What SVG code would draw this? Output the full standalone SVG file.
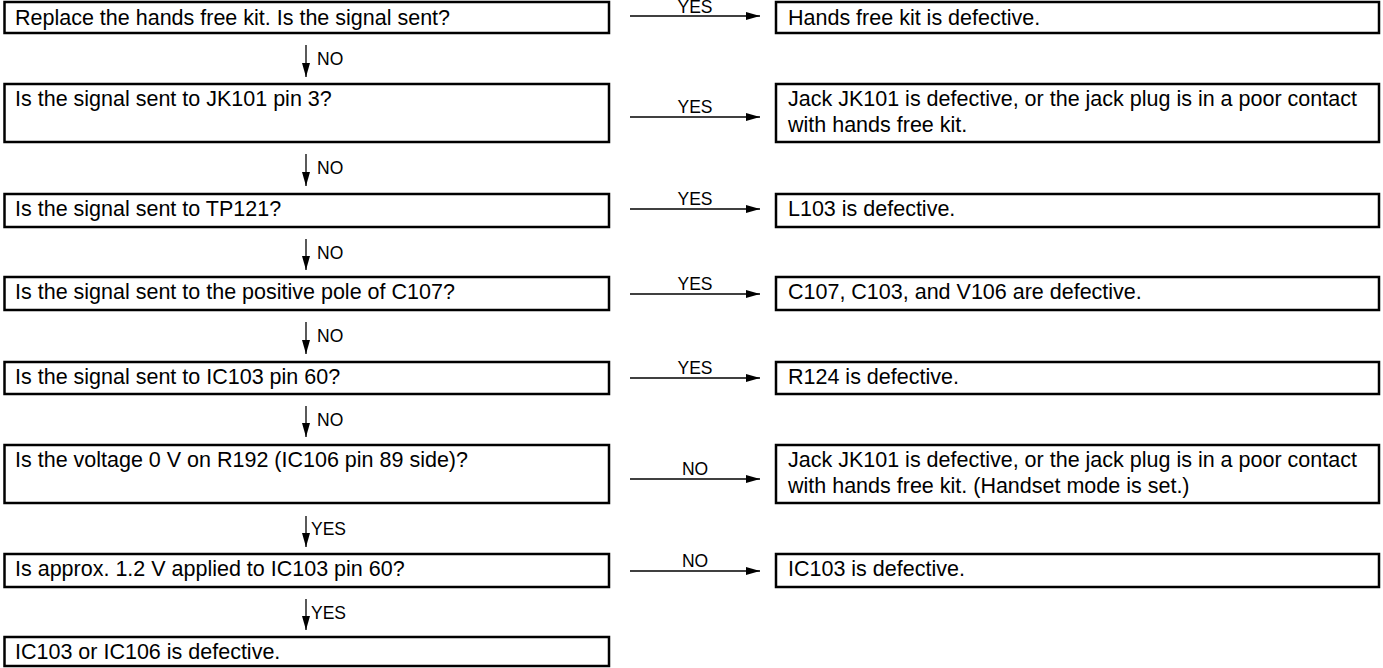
<svg xmlns="http://www.w3.org/2000/svg" width="1383" height="668" viewBox="0 0 1383 668">
<defs>
<style>
.box{fill:#fff;stroke:#000;stroke-width:2.5}
.t{font-family:"Liberation Sans",Arial,sans-serif;font-size:21.5px;fill:#000}
.lbl{font-family:"Liberation Sans",Arial,sans-serif;font-size:17.5px;fill:#000}
.c{text-anchor:middle}
.ln{stroke:#000;stroke-width:1.3;fill:none;marker-end:url(#ah)}
</style>
<marker id="ah" markerUnits="userSpaceOnUse" markerWidth="14" markerHeight="8" refX="14" refY="4" orient="auto">
<path d="M0,0 L14,4 L0,8 Z" fill="#000"/>
</marker>
</defs>
<rect width="1383" height="668" fill="#fff"/>
<g id="q1"><rect class="box" x="4.5" y="2" width="604.5" height="31"/><text class="t" x="15" y="25">Replace the hands free kit. Is the signal sent?</text></g>
<g id="r1"><rect class="box" x="776" y="2" width="603" height="31"/><text class="t" x="788" y="25">Hands free kit is defective.</text></g>
<g id="q2"><rect class="box" x="4.5" y="84" width="604.5" height="58"/><text class="t" x="15" y="106">Is the signal sent to JK101 pin 3?</text></g>
<g id="r2"><rect class="box" x="776" y="84" width="603" height="58"/><text class="t" x="788" y="106">Jack JK101 is defective, or the jack plug is in a poor contact</text><text class="t" x="788" y="132">with hands free kit.</text></g>
<g id="q3"><rect class="box" x="4.5" y="194" width="604.5" height="33"/><text class="t" x="15" y="216">Is the signal sent to TP121?</text></g>
<g id="r3"><rect class="box" x="776" y="194" width="603" height="33"/><text class="t" x="788" y="216">L103 is defective.</text></g>
<g id="q4"><rect class="box" x="4.5" y="277" width="604.5" height="33"/><text class="t" x="15" y="299">Is the signal sent to the positive pole of C107?</text></g>
<g id="r4"><rect class="box" x="776" y="277" width="603" height="33"/><text class="t" x="788" y="299">C107, C103, and V106 are defective.</text></g>
<g id="q5"><rect class="box" x="4.5" y="362" width="604.5" height="32"/><text class="t" x="15" y="384">Is the signal sent to IC103 pin 60?</text></g>
<g id="r5"><rect class="box" x="776" y="362" width="603" height="32"/><text class="t" x="788" y="384">R124 is defective.</text></g>
<g id="q6"><rect class="box" x="4.5" y="445" width="604.5" height="58"/><text class="t" x="15" y="467">Is the voltage 0 V on R192 (IC106 pin 89 side)?</text></g>
<g id="r6"><rect class="box" x="776" y="445" width="603" height="58"/><text class="t" x="788" y="467">Jack JK101 is defective, or the jack plug is in a poor contact</text><text class="t" x="788" y="493">with hands free kit. (Handset mode is set.)</text></g>
<g id="q7"><rect class="box" x="4.5" y="554" width="604.5" height="33"/><text class="t" x="15" y="576">Is approx. 1.2 V applied to IC103 pin 60?</text></g>
<g id="r7"><rect class="box" x="776" y="554" width="603" height="33"/><text class="t" x="788" y="576">IC103 is defective.</text></g>
<g id="q8"><rect class="box" x="4.5" y="637" width="604.5" height="29"/><text class="t" x="15" y="659">IC103 or IC106 is defective.</text></g>
<g id="connectors">
<line class="ln" x1="630" y1="16" x2="760" y2="16"/><text class="lbl c" x="695" y="13">YES</text>
<line class="ln" x1="630" y1="117" x2="760" y2="117"/><text class="lbl c" x="695" y="113">YES</text>
<line class="ln" x1="630" y1="209" x2="760" y2="209"/><text class="lbl c" x="695" y="205">YES</text>
<line class="ln" x1="630" y1="294" x2="760" y2="294"/><text class="lbl c" x="695" y="290">YES</text>
<line class="ln" x1="630" y1="378" x2="760" y2="378"/><text class="lbl c" x="695" y="374">YES</text>
<line class="ln" x1="630" y1="479" x2="760" y2="479"/><text class="lbl c" x="695" y="475">NO</text>
<line class="ln" x1="630" y1="571" x2="760" y2="571"/><text class="lbl c" x="695" y="567">NO</text>
<line class="ln" x1="306" y1="45" x2="306" y2="77"/><text class="lbl" x="317" y="65">NO</text>
<line class="ln" x1="306" y1="154" x2="306" y2="186"/><text class="lbl" x="317" y="174">NO</text>
<line class="ln" x1="306" y1="239" x2="306" y2="270"/><text class="lbl" x="317" y="259">NO</text>
<line class="ln" x1="306" y1="322" x2="306" y2="354"/><text class="lbl" x="317" y="342">NO</text>
<line class="ln" x1="306" y1="406" x2="306" y2="437"/><text class="lbl" x="317" y="426">NO</text>
<line class="ln" x1="306" y1="516" x2="306" y2="547"/><text class="lbl" x="311" y="535">YES</text>
<line class="ln" x1="306" y1="599" x2="306" y2="630"/><text class="lbl" x="311" y="619">YES</text>
</g>
</svg>
